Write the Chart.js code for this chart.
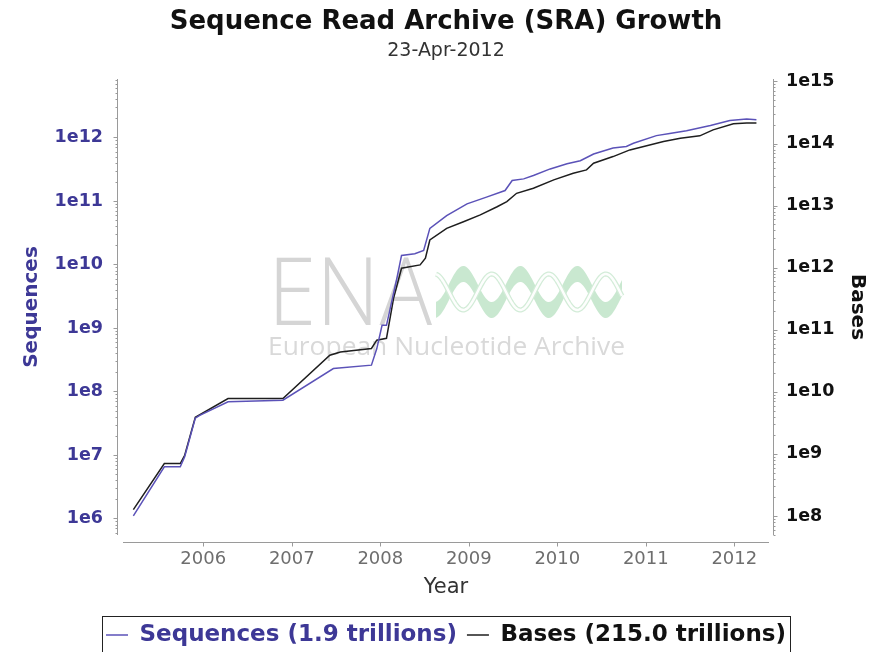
<!DOCTYPE html>
<html>
<head>
<meta charset="utf-8">
<script src="https://cdn.jsdelivr.net/npm/chart.js@4/dist/chart.umd.min.js"></script>
<style>
  html, body { margin: 0; padding: 0; background: #ffffff; }
  canvas { display: block; }
</style>
</head>
<body>
<canvas id="c" width="884" height="652"></canvas>
<script>
// ---------------- data ----------------
const titleText = 'Sequence Read Archive (SRA) Growth';
const subtitleText = '23-Apr-2012';
const xTitle = 'Year';
const leftTitle = 'Sequences';
const rightTitle = 'Bases';
const seriesNames = ['Sequences (1.9 trillions)', 'Bases (215.0 trillions)'];

const xTickYears = [2006, 2007, 2008, 2009, 2010, 2011, 2012];
const xTickLabels = ['2006', '2007', '2008', '2009', '2010', '2011', '2012'];

const leftTickValues = [1e6, 1e7, 1e8, 1e9, 1e10, 1e11, 1e12];
const leftTickLabels = ['1e6', '1e7', '1e8', '1e9', '1e10', '1e11', '1e12'];
const rightTickValues = [1e8, 1e9, 1e10, 1e11, 1e12, 1e13, 1e14, 1e15];
const rightTickLabels = ['1e8', '1e9', '1e10', '1e11', '1e12', '1e13', '1e14', '1e15'];

const seqYears = [2005.21, 2005.56, 2005.74, 2005.79, 2005.91, 2005.96, 2006.28, 2006.90,
  2007.47, 2007.90, 2007.96, 2008.02, 2008.07, 2008.19, 2008.24, 2008.39, 2008.49, 2008.56,
  2008.75, 2008.98, 2009.20, 2009.41, 2009.49, 2009.62, 2009.73, 2009.92, 2010.11, 2010.26,
  2010.41, 2010.63, 2010.78, 2010.86, 2011.12, 2011.27, 2011.46, 2011.73, 2011.95, 2012.14, 2012.25];
const seqValues = [1.1e6, 6.5e6, 6.5e6, 9.4e6, 3.8e7, 4.2e7, 6.9e7, 7.3e7,
  2.3e8, 2.6e8, 4.7e8, 1.1e9, 1.1e9, 6.3e9, 1.39e10, 1.48e10, 1.67e10, 3.7e10,
  5.9e10, 9.0e10, 1.15e11, 1.46e11, 2.1e11, 2.23e11, 2.52e11, 3.2e11, 3.85e11, 4.3e11,
  5.5e11, 6.85e11, 7.2e11, 8.1e11, 1.07e12, 1.16e12, 1.28e12, 1.54e12, 1.85e12, 1.95e12, 1.9e12];

const basesYears = [2005.21, 2005.56, 2005.74, 2005.79, 2005.91, 2006.28, 2006.90, 2007.43,
  2007.55, 2007.90, 2007.96, 2008.07, 2008.15, 2008.24, 2008.45, 2008.51, 2008.56, 2008.75,
  2008.94, 2009.13, 2009.32, 2009.43, 2009.54, 2009.73, 2009.96, 2010.18, 2010.33, 2010.41,
  2010.63, 2010.82, 2011.01, 2011.20, 2011.39, 2011.61, 2011.76, 2011.99, 2012.14, 2012.25];
const basesValues = [1.27e8, 7.0e8, 7.0e8, 9.5e8, 3.9e9, 7.8e9, 7.8e9, 3.9e10,
  4.4e10, 5.0e10, 6.8e10, 7.3e10, 3.2e11, 9.8e11, 1.11e12, 1.42e12, 2.8e12, 4.3e12,
  5.5e12, 7.1e12, 9.6e12, 1.16e13, 1.58e13, 1.91e13, 2.6e13, 3.33e13, 3.77e13, 4.83e13,
  6.17e13, 7.9e13, 9.2e13, 1.08e14, 1.22e14, 1.33e14, 1.66e14, 2.08e14, 2.15e14, 2.15e14];

// ---------------- styles ----------------
const FONT = "'DejaVu Sans', 'Liberation Sans', sans-serif";
const BLUE_TEXT = '#3d3896';
const BLUE_LINE = '#5b52b8';
const BLACK_LINE = '#1e1e1e';
const AXIS_GRAY = '#9a9a9a';

function logTicks(min, max, majors) {
  const ticks = [];
  const lo = Math.floor(Math.log10(min)), hi = Math.ceil(Math.log10(max));
  for (let e = lo; e <= hi; e++) {
    const base = Math.pow(10, e);
    for (let m = 1; m <= 9; m++) {
      const v = m === 1 ? (majors.find(t => Math.abs(t / base - 1) < 1e-9) || base) : m * base;
      if (v >= min && v <= max) ticks.push({ value: v, major: m === 1 });
    }
  }
  return ticks;
}
function labelFor(v, values, labels) {
  const i = values.findIndex(t => Math.abs(v / t - 1) < 1e-9);
  return i >= 0 ? labels[i] : '';
}

// watermark (ENA logo) drawn behind the series
const watermark = {
  id: 'watermark',
  beforeDatasetsDraw(chart) {
    const { ctx, chartArea: a } = chart;
    const cx = (a.left + a.right) / 2, cy = (a.top + a.bottom) / 2;
    ctx.save();
    ctx.fillStyle = '#d5d5d5';
    ctx.textBaseline = 'alphabetic';
    ctx.textAlign = 'left';
    ctx.font = "300 94px 'Open Sans', 'DejaVu Sans', sans-serif";
    let w = ctx.measureText('ENA').width;
    ctx.save();
    ctx.translate(cx - 178, cy + 18);
    ctx.scale(164 / w, 1);
    ctx.fillText('ENA', 0, 0);
    ctx.restore();
    ctx.fillStyle = '#d9d9d9';
    ctx.font = "26px 'Open Sans', 'DejaVu Sans', sans-serif";
    w = ctx.measureText('European Nucleotide Archive').width;
    ctx.save();
    ctx.translate(cx - 178, cy + 48);
    ctx.scale(357 / w, 1);
    ctx.fillText('European Nucleotide Archive', 0, 0);
    ctx.restore();
    // helix: thick sine band with a thin white crossing strand
    const x0 = cx - 10, x1 = cx + 176, yc = cy - 15, A = 18, P = 57, T = 16;
    const f = (x, ph) => yc - A * Math.sin(2 * Math.PI * (x - (cx + 3)) / P + ph);
    ctx.fillStyle = '#c9e8d0';
    ctx.beginPath();
    for (let x = x0; x <= x1; x += 1) ctx.lineTo(x, f(x, 0) - T / 2);
    for (let x = x1; x >= x0; x -= 1) ctx.lineTo(x, f(x, 0) + T / 2);
    ctx.closePath();
    ctx.fill();
    ctx.strokeStyle = '#d3ecd8';
    ctx.lineWidth = 5;
    ctx.beginPath();
    for (let x = x0; x <= x1; x += 1) ctx.lineTo(x, f(x, Math.PI));
    ctx.stroke();
    ctx.strokeStyle = 'rgba(255,255,255,0.95)';
    ctx.lineWidth = 2.5;
    ctx.beginPath();
    for (let x = x0; x <= x1; x += 1) ctx.lineTo(x, f(x, Math.PI));
    ctx.stroke();
    ctx.restore();
  }
};

// axes drawn slightly detached from the plot, JFreeChart style
const offsetAxes = {
  id: 'offsetAxes',
  afterDraw(chart) {
    const { ctx, chartArea: a, scales } = chart;
    ctx.save();
    ctx.strokeStyle = AXIS_GRAY;
    ctx.lineWidth = 1;
    const seg = (x1, y1, x2, y2) => { ctx.beginPath(); ctx.moveTo(x1, y1); ctx.lineTo(x2, y2); ctx.stroke(); };
    const lx = Math.round(a.left - 6) + 0.5;
    seg(lx, a.top, lx, a.bottom);
    scales.yL.ticks.forEach(t => {
      const y = Math.round(scales.yL.getPixelForValue(t.value)) + 0.5;
      seg(lx - (t.major ? 4 : 2), y, lx, y);
    });
    const rx = Math.round(a.right + 4) + 0.5;
    seg(rx, a.top, rx, a.bottom);
    scales.yR.ticks.forEach(t => {
      const y = Math.round(scales.yR.getPixelForValue(t.value)) + 0.5;
      seg(rx, y, rx + (t.major ? 4 : 2), y);
    });
    const by = Math.round(a.bottom + 7) + 0.5;
    seg(a.left, by, a.right, by);
    scales.x.ticks.forEach(t => {
      const x = Math.round(scales.x.getPixelForValue(t.value)) + 0.5;
      seg(x, by, x, by + 4);
    });
    const lg = chart.legend;
    if (lg && lg.legendHitBoxes && lg.legendHitBoxes.length) {
      const hb = lg.legendHitBoxes;
      const left = hb[0].left - 4, right = hb[hb.length - 1].left + hb[hb.length - 1].width + 4;
      ctx.strokeStyle = '#222';
      ctx.strokeRect(Math.round(left) + 0.5, 616.5, Math.round(right - left), 60);
    }
    ctx.restore();
  }
};

const seqData = seqYears.map((x, i) => ({ x, y: seqValues[i] }));
const basesData = basesYears.map((x, i) => ({ x, y: basesValues[i] }));

new Chart(document.getElementById('c'), {
  type: 'line',
  data: {
    datasets: [
      { label: seriesNames[0], data: seqData, yAxisID: 'yL', borderColor: BLUE_LINE, backgroundColor: BLUE_LINE,
        borderWidth: 1.5, pointRadius: 0, tension: 0, fill: false },
      { label: seriesNames[1], data: basesData, yAxisID: 'yR', borderColor: BLACK_LINE, backgroundColor: BLACK_LINE,
        borderWidth: 1.5, pointRadius: 0, tension: 0, fill: false }
    ]
  },
  options: {
    responsive: false,
    animation: false,
    parsing: false,
    layout: { padding: { left: 8, right: 0, top: 0, bottom: -4.5 } },
    plugins: {
      title: { display: true, text: titleText, color: '#111', font: { family: FONT, size: 26, weight: 'bold' }, padding: { top: 6.4, bottom: 0 } },
      subtitle: { display: true, text: subtitleText, color: '#333', font: { family: FONT, size: 19 }, padding: { top: 2, bottom: 16.6 } },
      legend: {
        position: 'bottom',
        labels: {
          usePointStyle: true, pointStyle: 'line', pointStyleWidth: 22, padding: 10,
          font: { family: FONT, size: 23, weight: 'bold' },
          generateLabels(chart) {
            return chart.data.datasets.map((ds, i) => ({
              text: ds.label, strokeStyle: ds.borderColor, fillStyle: ds.borderColor,
              fontColor: i === 0 ? BLUE_TEXT : '#111', lineWidth: 1.5, pointStyle: 'line',
              hidden: false, datasetIndex: i
            }));
          }
        }
      },
      tooltip: { enabled: false }
    },
    scales: {
      x: {
        type: 'linear', position: 'bottom', min: 2005.093, max: 2012.392,
        afterFit(s) { s.height = 78.5; },
        afterBuildTicks(s) { s.ticks = xTickYears.map(v => ({ value: v })); },
        ticks: { autoSkip: false, maxRotation: 0, padding: 13.2, color: '#6e6e6e', font: { family: FONT, size: 18 },
          callback: (v, i) => xTickLabels[i] },
        grid: { display: false, drawTicks: false },
        border: { display: false },
        title: { display: true, text: xTitle, color: '#333', font: { family: FONT, size: 21 }, padding: { top: 0, bottom: 12.9 } }
      },
      yL: {
        type: 'logarithmic', position: 'left', min: Math.pow(10, 5.740), max: Math.pow(10, 12.921),
        afterFit(s) { s.width = 115; },
        afterBuildTicks(s) { s.ticks = logTicks(s.min, s.max, leftTickValues); },
        ticks: { autoSkip: false, padding: 20, color: BLUE_TEXT, font: { family: FONT, size: 17.5, weight: 'bold' },
          callback: v => labelFor(v, leftTickValues, leftTickLabels) },
        grid: { display: false, drawTicks: false },
        border: { display: false },
        title: { display: true, text: leftTitle, color: BLUE_TEXT, font: { family: FONT, size: 20, weight: 'bold' }, padding: { top: 12, bottom: 0 } }
      },
      yR: {
        type: 'logarithmic', position: 'right', min: Math.pow(10, 7.694), max: Math.pow(10, 15.040),
        afterFit(s) { s.width = 115; },
        afterBuildTicks(s) { s.ticks = logTicks(s.min, s.max, rightTickValues); },
        ticks: { autoSkip: false, padding: 17, color: '#111', font: { family: FONT, size: 17.5, weight: 'bold' },
          callback: v => labelFor(v, rightTickValues, rightTickLabels) },
        grid: { display: false, drawTicks: false },
        border: { display: false },
        title: { display: true, text: rightTitle, color: '#111', font: { family: FONT, size: 20, weight: 'bold' }, padding: { top: 15, bottom: 0 } }
      }
    }
  },
  plugins: [watermark, offsetAxes]
});
</script>
</body>
</html>
